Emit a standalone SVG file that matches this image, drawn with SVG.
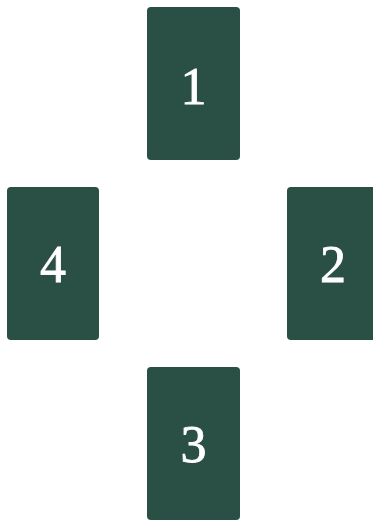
<svg xmlns="http://www.w3.org/2000/svg" width="373" height="520" viewBox="0 0 373 520">
<style>
.card{fill:#2a4f44;}
.lbl{fill:#ffffff;font-family:"Liberation Serif","DejaVu Serif",serif;font-size:52px;text-anchor:middle;dominant-baseline:central;stroke:#ffffff;stroke-width:0.8px;}
</style>
<rect width="373" height="520" fill="#ffffff"/>
<g id="connectors"></g>
<g id="card1"><rect class="card" x="147" y="7" width="93" height="153" rx="4"/><text class="lbl" x="193.5" y="86">1</text></g>
<g id="card2"><rect class="card" x="287" y="187" width="93" height="153" rx="4"/><text class="lbl" x="333" y="264">2</text></g>
<g id="card3"><rect class="card" x="147" y="367" width="93" height="153" rx="4"/><text class="lbl" x="193.5" y="444">3</text></g>
<g id="card4"><rect class="card" x="7" y="187" width="92" height="153" rx="4"/><text class="lbl" x="53" y="264">4</text></g>
</svg>
